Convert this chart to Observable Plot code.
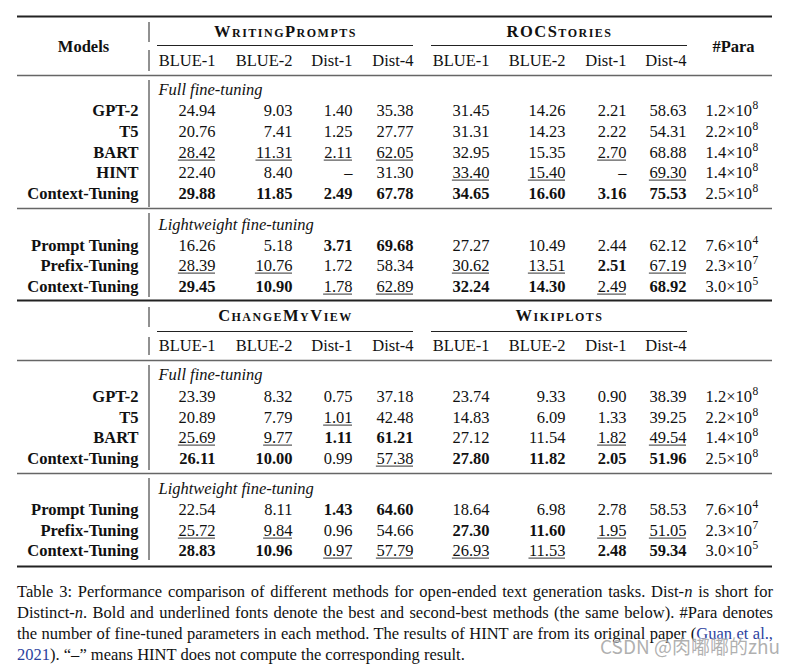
<!DOCTYPE html>
<html><head><meta charset="utf-8">
<script src="https://cdn.jsdelivr.net/npm/d3@7"></script>
<script src="https://cdn.jsdelivr.net/npm/@observablehq/plot@0.6"></script>
<style>
body{margin:0;background:#fff;}
#wrap{position:relative;width:797px;height:665px;overflow:hidden;font-family:"Liberation Serif","Times New Roman",serif;color:#111;}
#chart{position:absolute;left:0;top:0;}
#chart g[font-variant="small-caps"] text{letter-spacing:1.5px;}
#caption{position:absolute;left:17px;top:581px;width:756px;font-size:16px;line-height:21px;}
#caption div{white-space:nowrap;}
#caption div.j{text-align:justify;text-align-last:justify;white-space:normal;}
#caption a{color:#2b3f9e;text-decoration:none;}
#wm{position:absolute;left:600px;top:634px;font-family:"Noto Sans CJK SC","Noto Sans",sans-serif;font-size:19px;line-height:24px;color:rgba(150,150,150,0.75);text-shadow:0 0 2px #fff;white-space:nowrap;}
</style></head>
<body><div id="wrap"><div id="chart"></div>
<div id="caption">
<div class="j">Table 3: Performance comparison of different methods for open-ended text generation tasks. Dist-<i>n</i> is short for</div>
<div class="j">Distinct-<i>n</i>. Bold and underlined fonts denote the best and second-best methods (the same below). #Para denotes</div>
<div class="j">the number of fine-tuned parameters in each method. The results of HINT are from its original paper (<a>Guan et al.,</a></div>
<div><a>2021</a>). “–” means HINT does not compute the corresponding result.</div>
</div>
<div id="wm">CSDN @肉嘟嘟的zhu</div>
</div>
<script>
// ---------- data ----------
const datasets = ["WritingPrompts", "ROCStories", "ChangeMyView", "Wikiplots"];
const metrics = ["BLUE-1", "BLUE-2", "Dist-1", "Dist-4"];
const groups = ["Full fine-tuning", "Lightweight fine-tuning"];

const models1Full = ["GPT-2", "T5", "BART", "HINT", "Context-Tuning"];
const models2Full = ["GPT-2", "T5", "BART", "Context-Tuning"];
const modelsLight = ["Prompt Tuning", "Prefix-Tuning", "Context-Tuning"];

const paraFull1 = [["1.2", 8], ["2.2", 8], ["1.4", 8], ["1.4", 8], ["2.5", 8]];
const paraFull2 = [["1.2", 8], ["2.2", 8], ["1.4", 8], ["2.5", 8]];
const paraLight = [["7.6", 4], ["2.3", 7], ["3.0", 5]];

// WritingPrompts | ROCStories (full)
const top_full = [
  ["24.94", "9.03", "1.40", "35.38", "31.45", "14.26", "2.21", "58.63"],
  ["20.76", "7.41", "1.25", "27.77", "31.31", "14.23", "2.22", "54.31"],
  ["28.42", "11.31", "2.11", "62.05", "32.95", "15.35", "2.70", "68.88"],
  ["22.40", "8.40", "–", "31.30", "33.40", "15.40", "–", "69.30"],
  ["29.88", "11.85", "2.49", "67.78", "34.65", "16.60", "3.16", "75.53"]
];
const top_full_mark = ["........", "........", "uuuu..u.", "....uu.u", "bbbbbbbb"];
const top_light = [
  ["16.26", "5.18", "3.71", "69.68", "27.27", "10.49", "2.44", "62.12"],
  ["28.39", "10.76", "1.72", "58.34", "30.62", "13.51", "2.51", "67.19"],
  ["29.45", "10.90", "1.78", "62.89", "32.24", "14.30", "2.49", "68.92"]
];
const top_light_mark = ["..bb....", "uu..uubu", "bbuubbub"];

// ChangeMyView | Wikiplots
const bot_full = [
  ["23.39", "8.32", "0.75", "37.18", "23.74", "9.33", "0.90", "38.39"],
  ["20.89", "7.79", "1.01", "42.48", "14.83", "6.09", "1.33", "39.25"],
  ["25.69", "9.77", "1.11", "61.21", "27.12", "11.54", "1.82", "49.54"],
  ["26.11", "10.00", "0.99", "57.38", "27.80", "11.82", "2.05", "51.96"]
];
const bot_full_mark = ["........", "..u.....", "uubb..uu", "bb.ubbbb"];
const bot_light = [
  ["22.54", "8.11", "1.43", "64.60", "18.64", "6.98", "2.78", "58.53"],
  ["25.72", "9.84", "0.96", "54.66", "27.30", "11.60", "1.95", "51.05"],
  ["28.83", "10.96", "0.97", "57.79", "26.93", "11.53", "2.48", "59.34"]
];
const bot_light_mark = ["..bb....", "uu..bbuu", "bbuuuubb"];

// ---------- layout ----------
const FS = 16.5;
const FONT = '"Liberation Serif","Times New Roman",serif';
const colRight = [215, 292, 352, 413, 489, 565, 626, 686];
const dsCenter = [285, 559];
const cmid = [[157, 413], [431, 687]];
const paraX = 705, nameX = 138, labelX = 158, vX = 148.5, L = 17, R = 772;

const blocks = [
  {names: [datasets[0], datasets[1]], dsY: 31, headY: 60, labels: [89, 224],
   rows: [[110, 131, 152, 172, 193], [245, 265, 286]],
   full: top_full, fullMark: top_full_mark, light: top_light, lightMark: top_light_mark,
   fullModels: models1Full, fullPara: paraFull1, cmidY: 45,
   vsegs: [[22, 42], [50, 71], [80, 207], [213, 297]]},
  {names: [datasets[2], datasets[3]], dsY: 315, headY: 345, labels: [374, 488],
   rows: [[396, 417, 437, 458], [509, 530, 550]],
   full: bot_full, fullMark: bot_full_mark, light: bot_light, lightMark: bot_light_mark,
   fullModels: models2Full, fullPara: paraFull2, cmidY: 331,
   vsegs: [[307, 327], [337, 355], [365, 470], [478, 560]]}
];
const heavyRules = [16, 300, 566];
const lightRules = [75, 208, 360, 473];

// ---------- measure ----------
const ctx = document.createElement("canvas").getContext("2d");
function tw(t, bold, size = FS) { ctx.font = `${bold ? "bold " : ""}${size}px ${FONT}`; return ctx.measureText(t).width; }

// ---------- build cells ----------
const cells = [], names = [], paras = [], vsegs = [], cmids = [], labels = [], dsNames = [];
for (const b of blocks) {
  b.names.forEach((n, i) => dsNames.push({x: dsCenter[i], y: b.dsY, text: n}));
  cmids.push(...cmid.map(([x1, x2]) => ({x1, x2, y: b.cmidY})));
  colRight.forEach((x, j) => cells.push({x, y: b.headY, text: metrics[j % 4], w: ""}));
  groups.forEach((g, gi) => labels.push({x: labelX, y: b.labels[gi], text: g}));
  const parts = [[b.full, b.fullMark, b.fullModels, b.fullPara, b.rows[0]],
                 [b.light, b.lightMark, modelsLight, paraLight, b.rows[1]]];
  for (const [vals, marks, models, para, ys] of parts) {
    vals.forEach((row, r) => {
      row.forEach((v, j) => cells.push({x: colRight[j], y: ys[r], text: v, w: marks[r][j]}));
      names.push({x: nameX, y: ys[r], text: models[r]});
      paras.push({x: paraX, y: ys[r], text: para[r][0] + "×10", exp: String(para[r][1])});
    });
  }
  b.vsegs.forEach(([y1, y2]) => vsegs.push({x: vX, y1, y2}));
}
const underlines = cells.filter(d => d.w === "u").map(d => ({x1: d.x - tw(d.text, false), x2: d.x, y: d.y + 7.6}));
paras.forEach(d => d.ex = d.x + tw(d.text, false) + 0.5);

const header = [{x: 83, y: 46.5, text: "Models"}, {x: 733, y: 46.5, text: "#Para"}];

const common = {fontFamily: FONT, fontSize: FS, fill: "#111"};
const chart = Plot.plot({
  width: 797, height: 570, margin: 0,
  x: {type: "linear", domain: [0, 797], range: [0, 797], axis: null},
  y: {type: "linear", domain: [0, 570], range: [0, 570], axis: null},
  style: {background: "#fff"},
  marks: [
    Plot.ruleY(heavyRules, {y: d => d, x1: L, x2: R, stroke: "#222", strokeWidth: 2}),
    Plot.ruleY(lightRules, {y: d => d, x1: L, x2: R, stroke: "#666", strokeWidth: 1.5}),
    Plot.ruleY(cmids, {y: "y", x1: "x1", x2: "x2", stroke: "#222", strokeWidth: 1}),
    Plot.ruleX(vsegs, {x: "x", y1: "y1", y2: "y2", stroke: "#222", strokeWidth: 1}),
    Plot.ruleY(underlines, {y: "y", x1: "x1", x2: "x2", stroke: "#333", strokeWidth: 1}),
    Plot.text(dsNames, {x: "x", y: "y", text: "text", ...common, fontWeight: "bold", fontVariant: "small-caps", textAnchor: "middle"}),
    Plot.text(header, {x: "x", y: "y", text: "text", ...common, fontWeight: "bold", textAnchor: "middle"}),
    Plot.text(labels, {x: "x", y: "y", text: "text", ...common, fontStyle: "italic", textAnchor: "start"}),
    Plot.text(names, {x: "x", y: "y", text: "text", ...common, fontWeight: "bold", textAnchor: "end"}),
    Plot.text(cells.filter(d => d.w !== "b"), {x: "x", y: "y", text: "text", ...common, textAnchor: "end"}),
    Plot.text(cells.filter(d => d.w === "b"), {x: "x", y: "y", text: "text", ...common, fontWeight: "bold", textAnchor: "end"}),
    Plot.text(paras, {x: "x", y: "y", text: "text", ...common, textAnchor: "start"}),
    Plot.text(paras, {x: "ex", y: d => d.y - 5, text: "exp", ...common, fontSize: 11.5, textAnchor: "start"})
  ]
});
document.getElementById("chart").appendChild(chart);

// fit caption font so the justified lines have near-natural word spacing
const capLines = Array.from(document.querySelectorAll("#caption div.j")).map(d => d.textContent);
const maxW = Math.max(...capLines.map(t => tw(t, false, 16)));
const capFS = Math.min(17, 16 * 752 / maxW);
document.getElementById("caption").style.fontSize = capFS.toFixed(2) + "px";
</script>
</body></html>
